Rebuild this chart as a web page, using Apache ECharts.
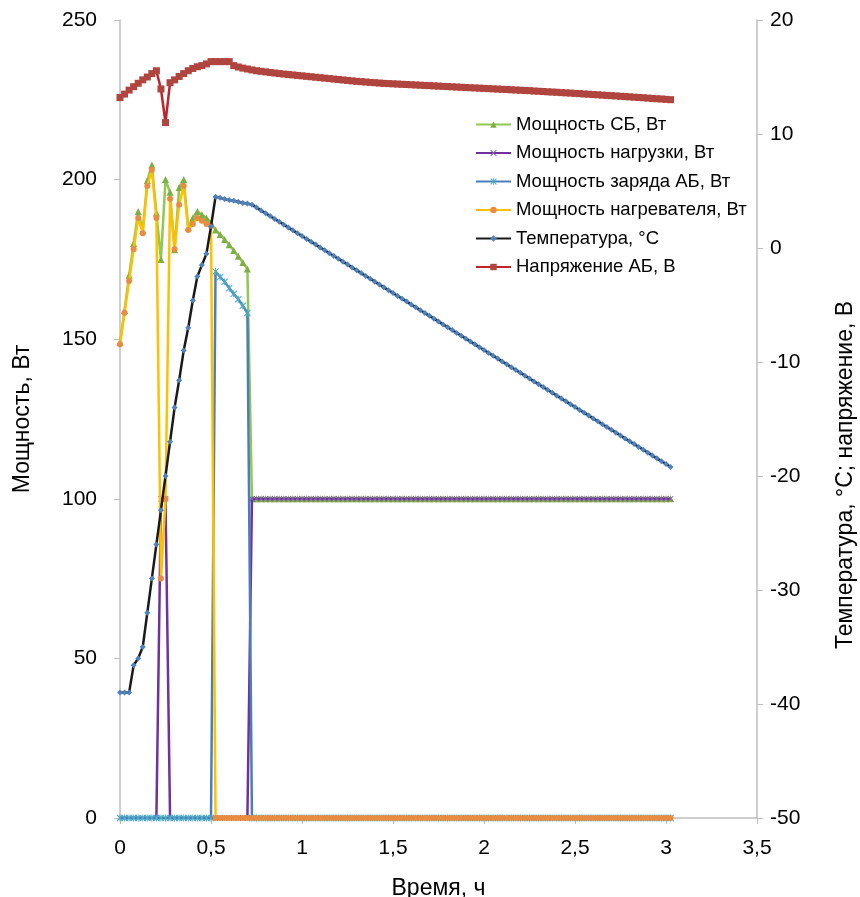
<!DOCTYPE html>
<html>
<head>
<meta charset="utf-8">
<script src="https://cdn.jsdelivr.net/npm/echarts@6/dist/echarts.min.js"></script>
<style>
  html, body { margin: 0; padding: 0; background: #fff; }
  #main { width: 860px; height: 897px; }
</style>
</head>
<body>
<div id="main"></div>
<script>
// время, ч (шаг 1,5 мин)
const time = [
  0, 0.025, 0.05, 0.075, 0.1, 0.125, 0.15, 0.175, 0.2, 0.225,
  0.25, 0.275, 0.3, 0.325, 0.35, 0.375, 0.4, 0.425, 0.45, 0.475,
  0.5, 0.525, 0.55, 0.575, 0.6, 0.625, 0.65, 0.675, 0.7, 0.725,
  0.75, 0.775, 0.8, 0.825, 0.85, 0.875, 0.9, 0.925, 0.95, 0.975,
  1, 1.025, 1.05, 1.075, 1.1, 1.125, 1.15, 1.175, 1.2, 1.225,
  1.25, 1.275, 1.3, 1.325, 1.35, 1.375, 1.4, 1.425, 1.45, 1.475,
  1.5, 1.525, 1.55, 1.575, 1.6, 1.625, 1.65, 1.675, 1.7, 1.725,
  1.75, 1.775, 1.8, 1.825, 1.85, 1.875, 1.9, 1.925, 1.95, 1.975,
  2, 2.025, 2.05, 2.075, 2.1, 2.125, 2.15, 2.175, 2.2, 2.225,
  2.25, 2.275, 2.3, 2.325, 2.35, 2.375, 2.4, 2.425, 2.45, 2.475,
  2.5, 2.525, 2.55, 2.575, 2.6, 2.625, 2.65, 2.675, 2.7, 2.725,
  2.75, 2.775, 2.8, 2.825, 2.85, 2.875, 2.9, 2.925, 2.95, 2.975,
  3, 3.025,
];

// Мощность СБ, Вт
const powerSB = [
  149, 159, 170, 180, 190, 184, 199.7, 204.6, 189.5, 175,
  200, 196, 178, 197.5, 200, 185, 188, 190, 189, 188,
  186.5, 184.2, 182.8, 181.2, 179.6, 177.8, 176, 174, 172, 100,
  100, 100, 100, 100, 100, 100, 100, 100, 100, 100,
  100, 100, 100, 100, 100, 100, 100, 100, 100, 100,
  100, 100, 100, 100, 100, 100, 100, 100, 100, 100,
  100, 100, 100, 100, 100, 100, 100, 100, 100, 100,
  100, 100, 100, 100, 100, 100, 100, 100, 100, 100,
  100, 100, 100, 100, 100, 100, 100, 100, 100, 100,
  100, 100, 100, 100, 100, 100, 100, 100, 100, 100,
  100, 100, 100, 100, 100, 100, 100, 100, 100, 100,
  100, 100, 100, 100, 100, 100, 100, 100, 100, 100,
  100, 100,
];

// Мощность нагрузки, Вт
const powerLoad = [
  0, 0, 0, 0, 0, 0, 0, 0, 0, 100,
  100, 0, 0, 0, 0, 0, 0, 0, 0, 0,
  0, 0, 0, 0, 0, 0, 0, 0, 0, 100,
  100, 100, 100, 100, 100, 100, 100, 100, 100, 100,
  100, 100, 100, 100, 100, 100, 100, 100, 100, 100,
  100, 100, 100, 100, 100, 100, 100, 100, 100, 100,
  100, 100, 100, 100, 100, 100, 100, 100, 100, 100,
  100, 100, 100, 100, 100, 100, 100, 100, 100, 100,
  100, 100, 100, 100, 100, 100, 100, 100, 100, 100,
  100, 100, 100, 100, 100, 100, 100, 100, 100, 100,
  100, 100, 100, 100, 100, 100, 100, 100, 100, 100,
  100, 100, 100, 100, 100, 100, 100, 100, 100, 100,
  100, 100,
];

// Мощность заряда АБ, Вт
const powerCharge = [
  0, 0, 0, 0, 0, 0, 0, 0, 0, 0,
  0, 0, 0, 0, 0, 0, 0, 0, 0, 0,
  0, 171.2, 169.5, 168, 166, 164.2, 162.5, 160.5, 158.2, 0,
  0, 0, 0, 0, 0, 0, 0, 0, 0, 0,
  0, 0, 0, 0, 0, 0, 0, 0, 0, 0,
  0, 0, 0, 0, 0, 0, 0, 0, 0, 0,
  0, 0, 0, 0, 0, 0, 0, 0, 0, 0,
  0, 0, 0, 0, 0, 0, 0, 0, 0, 0,
  0, 0, 0, 0, 0, 0, 0, 0, 0, 0,
  0, 0, 0, 0, 0, 0, 0, 0, 0, 0,
  0, 0, 0, 0, 0, 0, 0, 0, 0, 0,
  0, 0, 0, 0, 0, 0, 0, 0, 0, 0,
  0, 0,
];

// Мощность нагревателя, Вт
const powerHeater = [
  148.4, 158.3, 168.2, 178.2, 188, 183.2, 198, 203, 188, 75,
  100, 194, 178.2, 192.1, 198, 184.2, 186.1, 188, 187.1, 186.1,
  185.5, 0, 0, 0, 0, 0, 0, 0, 0, 0,
  0, 0, 0, 0, 0, 0, 0, 0, 0, 0,
  0, 0, 0, 0, 0, 0, 0, 0, 0, 0,
  0, 0, 0, 0, 0, 0, 0, 0, 0, 0,
  0, 0, 0, 0, 0, 0, 0, 0, 0, 0,
  0, 0, 0, 0, 0, 0, 0, 0, 0, 0,
  0, 0, 0, 0, 0, 0, 0, 0, 0, 0,
  0, 0, 0, 0, 0, 0, 0, 0, 0, 0,
  0, 0, 0, 0, 0, 0, 0, 0, 0, 0,
  0, 0, 0, 0, 0, 0, 0, 0, 0, 0,
  0, 0,
];

// Температура, °C
const temperature = [
  -39, -39, -39, -36.6, -36, -35, -32, -29, -26, -23,
  -20, -17, -14, -11.6, -9, -7, -4.6, -2.5, -1.5, -0.5,
  1.9, 4.5, 4.4, 4.3, 4.2, 4.15, 4.05, 3.95, 3.9, 3.8,
  3.55, 3.3, 3.05, 2.8, 2.55, 2.3, 2.05, 1.8, 1.55, 1.3,
  1.05, 0.8, 0.55, 0.3, 0.05, -0.2, -0.45, -0.7, -0.95, -1.2,
  -1.45, -1.7, -1.95, -2.2, -2.45, -2.7, -2.95, -3.2, -3.45, -3.7,
  -3.95, -4.2, -4.45, -4.7, -4.95, -5.2, -5.45, -5.7, -5.95, -6.2,
  -6.45, -6.7, -6.95, -7.2, -7.45, -7.7, -7.95, -8.2, -8.45, -8.7,
  -8.95, -9.2, -9.45, -9.7, -9.95, -10.2, -10.45, -10.7, -10.95, -11.2,
  -11.45, -11.7, -11.95, -12.2, -12.45, -12.7, -12.95, -13.2, -13.45, -13.7,
  -13.95, -14.2, -14.45, -14.7, -14.95, -15.2, -15.45, -15.7, -15.95, -16.2,
  -16.45, -16.7, -16.95, -17.2, -17.45, -17.7, -17.95, -18.2, -18.45, -18.7,
  -18.95, -19.2,
];

// Напряжение АБ, В
const voltage = [
  13.2, 13.5, 13.85, 14.15, 14.45, 14.75, 15, 15.3, 15.55, 13.95,
  11, 14.5, 14.75, 15.05, 15.3, 15.55, 15.75, 15.9, 16, 16.15,
  16.35, 16.35, 16.35, 16.35, 16.35, 16, 15.88, 15.78, 15.7, 15.62,
  15.55, 15.5, 15.45, 15.4, 15.35, 15.3, 15.26, 15.22, 15.18, 15.14,
  15.1, 15.06, 15.02, 14.98, 14.94, 14.9, 14.86, 14.82, 14.78, 14.74,
  14.7, 14.66, 14.62, 14.59, 14.56, 14.53, 14.5, 14.47, 14.44, 14.42,
  14.4, 14.38, 14.36, 14.34, 14.32, 14.3, 14.28, 14.26, 14.24, 14.22,
  14.2, 14.18, 14.16, 14.14, 14.12, 14.1, 14.08, 14.06, 14.04, 14.02,
  14, 13.98, 13.96, 13.94, 13.92, 13.9, 13.88, 13.86, 13.84, 13.82,
  13.8, 13.77, 13.75, 13.73, 13.7, 13.68, 13.66, 13.63, 13.61, 13.59,
  13.56, 13.54, 13.51, 13.49, 13.46, 13.44, 13.41, 13.39, 13.36, 13.34,
  13.31, 13.28, 13.26, 13.23, 13.2, 13.18, 13.15, 13.12, 13.09, 13.07,
  13.04, 13.01,
];

const names = [
  'Мощность СБ, Вт',
  'Мощность нагрузки, Вт',
  'Мощность заряда АБ, Вт',
  'Мощность нагревателя, Вт',
  'Температура, °C',
  'Напряжение АБ, В',
];

const font = 'Liberation Sans, Arial, sans-serif';
const axisGray = '#bfbfbf';

// маркеры "x" и "*" как заливаемые фигуры
const crossPath = 'path://M0,1L1,0L5,4L9,0L10,1L6,5L10,9L9,10L5,6L1,10L0,9L4,5Z';
const starPath = 'path://M0,1L1,0L5,4L9,0L10,1L6,5L10,9L9,10L5,6L1,10L0,9L4,5Z M4.3,0L5.7,0L5.7,10L4.3,10Z';

function toPairs(values) {
  return time.map((t, i) => [t, values[i]]);
}

// каждая следующая серия целиком (линия + маркеры) поверх предыдущей, как в Excel
function makeSeries(order, values, yIndex, lineColor, symbol, symbolSize, markColor) {
  return {
    name: names[order],
    type: 'line',
    yAxisIndex: yIndex,
    z: 2 + order,
    data: toPairs(values),
    symbol,
    symbolSize,
    showSymbol: true,
    showAllSymbol: true,
    lineStyle: { color: lineColor, width: 2.5 },
    itemStyle: { color: markColor, borderWidth: 0 },
    emphasis: { disabled: true },
  };
}

const myChart = echarts.init(document.getElementById('main'), null, { renderer: 'canvas' });

myChart.setOption({
  animation: false,
  backgroundColor: '#fff',
  textStyle: { fontFamily: font },
  grid: {
    left: 120,
    right: 103,
    top: 20,
    bottom: 79,
    containLabel: false,
    outerBoundsMode: 'none',
  },
  legend: {
    data: names,
    orient: 'vertical',
    left: 470,
    top: 110,
    itemWidth: 35,
    itemHeight: 8,
    itemGap: 9.5,
    textStyle: { fontSize: 18.5, color: '#000', fontFamily: font },
    selectedMode: false,
  },
  xAxis: {
    type: 'value',
    min: 0,
    max: 3.5,
    interval: 0.5,
    name: 'Время, ч',
    nameLocation: 'middle',
    nameGap: 59,
    nameTextStyle: { fontSize: 23, color: '#000', fontFamily: font },
    axisLine: { show: true, onZero: false, lineStyle: { color: axisGray, width: 1.5 } },
    axisTick: { show: true, inside: false, length: 6, lineStyle: { color: axisGray } },
    axisLabel: {
      margin: 20,
      fontSize: 21,
      color: '#000',
      formatter: (v) => String(v).replace('.', ','),
    },
    splitLine: { show: false },
  },
  yAxis: [
    {
      type: 'value',
      min: 0,
      max: 250,
      interval: 50,
      position: 'left',
      name: 'Мощность, Вт',
      nameLocation: 'middle',
      nameGap: 86,
      nameTextStyle: { fontSize: 23, color: '#000', fontFamily: font },
      axisLine: { show: true, lineStyle: { color: axisGray, width: 1.5 } },
      axisTick: { show: true, inside: false, length: 6, lineStyle: { color: axisGray } },
      axisLabel: { margin: 23, fontSize: 21, color: '#000' },
      splitLine: { show: false },
    },
    {
      type: 'value',
      min: -50,
      max: 20,
      interval: 10,
      position: 'right',
      axisLine: { show: true, lineStyle: { color: axisGray, width: 1.5 } },
      axisTick: { show: true, inside: false, length: 6, lineStyle: { color: axisGray } },
      axisLabel: { margin: 13, fontSize: 21, color: '#000' },
      splitLine: { show: false },
    },
  ],
  graphic: [
    {
      type: 'text',
      x: 846,
      y: 475,
      rotation: Math.PI / 2,
      style: {
        text: 'Температура, °C; напряжение, В',
        fontSize: 23,
        fontFamily: font,
        fill: '#000',
        align: 'center',
        verticalAlign: 'middle',
      },
    },
  ],
  series: [
    makeSeries(0, powerSB, 0, '#92c850', 'triangle', 7, '#7fae45'),
    makeSeries(1, powerLoad, 0, '#7030a0', crossPath, 6, '#8064a2'),
    makeSeries(2, powerCharge, 0, '#4a7ebb', starPath, 7, '#4bacc6'),
    makeSeries(3, powerHeater, 0, '#ffc000', 'circle', 6, '#e98c3f'),
    makeSeries(4, temperature, 1, '#1a1a1a', 'diamond', 6, '#4f81bd'),
    makeSeries(5, voltage, 1, '#c0232b', 'rect', 7, '#b0443f'),
  ],
});
</script>
</body>
</html>
